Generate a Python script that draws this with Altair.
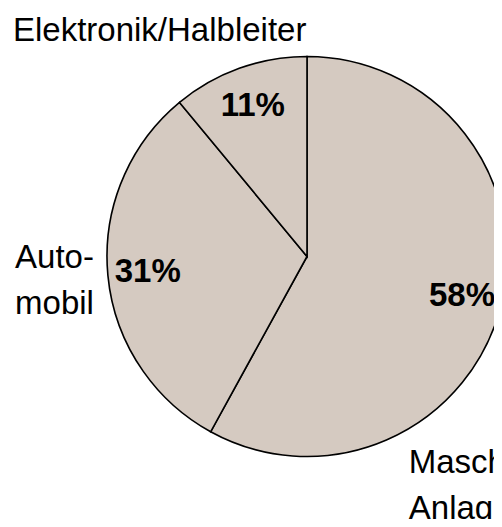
import altair as alt
import pandas as pd

categories = ["Maschinen-/Anlagenbau", "Automobil", "Elektronik/Halbleiter"]
labels = ["Maschinen-/\nAnlagenbau", "Auto-\nmobil", "Elektronik/Halbleiter"]
values = [58, 31, 11]
order = [1, 2, 3]

df = pd.DataFrame({"cat": categories, "label": labels, "value": values, "ord": order})
df["pct"] = [f"{v}%" for v in values]

FILL = "#d5cac1"
FONT = "Liberation Sans"
CX, CY = 299, 248.5
R = 200

base = alt.Chart(df).transform_window(
    cum="sum(value)", sort=[alt.SortField("ord")], frame=[None, 0]
).transform_calculate(
    start="datum.cum - datum.value",
    mid="datum.cum - datum.value / 2",
)

tscale = alt.Scale(domain=[0, 100], range=[0, 6.283185307179586])

arcs = base.mark_arc(radius=R, fill=FILL, stroke="black", strokeWidth=1.6).encode(
    theta=alt.Theta("start:Q", scale=tscale, stack=None),
    theta2="cum:Q",
    x=alt.value(CX),
    y=alt.value(CY),
)

pct = base.mark_text(radius=160, font=FONT, fontWeight="bold", fontSize=33,
                     align="center", baseline="middle", color="black").encode(
    theta=alt.Theta("mid:Q", scale=tscale, stack=None),
    text="pct:N",
    x=alt.value(CX),
    y=alt.value(CY),
)

def cat_label(name, radius, align, dx, dy):
    return base.transform_filter(alt.datum.cat == name).mark_text(
        radius=radius, font=FONT, fontSize=33, align=align, baseline="middle",
        lineBreak="\n", lineHeight=46, dx=dx, dy=dy, color="black"
    ).encode(
        theta=alt.Theta("mid:Q", scale=tscale, stack=None),
        text="label:N",
        x=alt.value(CX),
        y=alt.value(CY),
    )

lab_e = cat_label("Elektronik/Halbleiter", 240, "center", -66, 0)
lab_a = cat_label("Automobil", 215, "right", 1, -19)
lab_m = cat_label("Maschinen-/Anlagenbau", 230, "left", -121, 149)

chart = alt.layer(arcs, pct, lab_e, lab_a, lab_m).properties(
    width=486, height=511, padding=0, autosize="none"
).configure_view(stroke=None)

chart.save("out.html", embed_options={"renderer": "svg", "actions": False})
